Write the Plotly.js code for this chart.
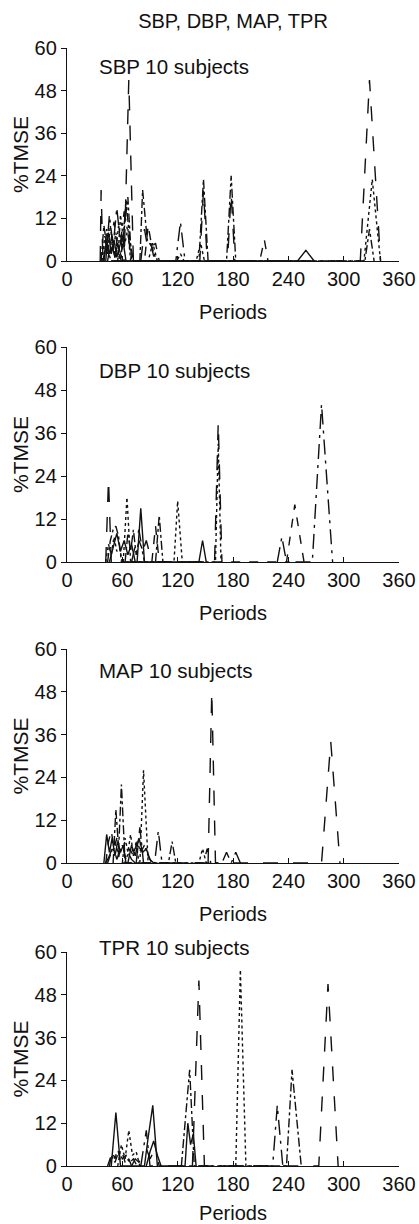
<!DOCTYPE html>
<html>
<head>
<meta charset="utf-8">
<script src="https://cdn.plot.ly/plotly-3.0.1.min.js"></script>
<style>html,body{margin:0;padding:0;background:#fff;}#chart{width:419px;height:1224px;}</style>
</head>
<body>
<div id="chart"></div>
<script>
// ---- data ----
const panelNames = ["SBP 10 subjects", "DBP 10 subjects", "MAP 10 subjects", "TPR 10 subjects"];
const xTicks = [0, 60, 120, 180, 240, 300, 360];
const yTicks = [0, 12, 24, 36, 48, 60];

const sbpPeriods = [
  [36,37,39, 62,67,72, 318,328,340],
  [40,43,46,49,52,56,60,64,68,72, 79,82,87,92,97, 143,148,153, 173,178,183],
  [38,41,44,47,50,53,57, 140,145,149, 322,327,331,336,340],
  [40,43,46,49,52,55,58,61, 250,259,268],
  [42,46,50,54,58,62,66,70, 118,123,128],
  [44,47,51,55,59, 84,88,92,96,100, 209,214,218],
  [55,58,62,66,69, 88,93,98, 119,123,127],
  [37,40,44,48, 58,63,66,70, 323,328,333],
  [39,42,45,48,51,54,57,60,64],
  [80,84,88,91,95, 144,148,152, 174,178,182]
];
const sbpTmse = [
  [0,20,0, 0,51,0, 0,51,0],
  [0,9,2,7,1,10,3,17,6,0, 0,20,6,4,0, 0,23,0, 0,24,0],
  [0,7,2,10,3,8,0, 0,5,0, 0,12,23,10,0],
  [0,6,2,4,1,5,2,0, 0,3,0],
  [0,13,4,15,5,14,8,0, 0,11,0],
  [0,5,11,3,0, 0,10,4,5,0, 0,6,0],
  [0,13,4,9,0, 0,5,0, 0,2,0],
  [0,10,3,0, 0,12,18,0, 0,9,0],
  [0,4,8,2,6,1,4,7,0],
  [0,9,3,5,0, 0,20,0, 0,19,0]
];

const dbpPeriods = [
  [42,45,48, 160,164,168],
  [44,47,50,53,56,59, 96,100,104],
  [61,65,69, 116,120,125, 161,164,167],
  [76,80,84, 143,147,151],
  [228,233,238, 266,276,288],
  [92,96,100, 238,247,257],
  [42,45,48,51,54,57,60],
  [63,66,69,72,75,78,81,84],
  [46,50,54,58,62,66,70,74],
  [70,74,78,82,86,90,94]
];
const dbpTmse = [
  [0,23,0, 0,39,0],
  [0,6,9,10,7,0, 0,13,0],
  [0,18,0, 0,17,0, 0,33,0],
  [0,15,0, 0,6,0],
  [0,7,0, 0,44,0],
  [0,10,0, 0,16,0],
  [0,5,2,7,3,4,0],
  [0,8,3,9,2,6,4,0],
  [0,4,8,3,6,2,5,0],
  [0,5,9,3,6,2,0]
];

const mapPeriods = [
  [153,157,161, 276,286,296],
  [50,53,56,59,63, 110,114,118],
  [79,83,88, 143,147,151],
  [40,43,46,49,52,55,58,61,64],
  [75,79,83, 95,99,103, 168,173,178,183,188],
  [42,45,48,51,54,57, 148,152,156],
  [60,63,66,69,72,75,78],
  [44,48,52,56,60,64,68,72,76,80,84,88,92],
  [66,70,74,78,82,86,90,94],
  [42,46,50,54,58,62,66,70,74]
];
const mapTmse = [
  [0,48,0, 0,34,0],
  [0,15,4,22,0, 0,6,0],
  [0,26,0, 0,4,0],
  [0,8,3,7,2,6,3,5,0],
  [0,10,0, 0,9,0, 0,3,0,3,0],
  [0,6,9,4,7,0, 0,4,0],
  [0,7,3,8,2,6,0],
  [0,3,6,2,5,1,4,2,6,3,5,2,0],
  [0,5,2,7,3,4,1,0],
  [0,2,5,1,4,2,3,1,0]
];

const tprPeriods = [
  [136,143,149, 273,283,294],
  [124,133,138, 238,244,254],
  [183,188,194],
  [48,53,58, 84,88,93,98],
  [80,86,90, 223,228,234],
  [46,49,52,55,58,61,64,67,70],
  [55,59,63,67,71,75,79],
  [44,48,52,56,60,64,68,72,76],
  [86,90,94,98,102, 128,131,134,137,140],
  [70,74,78,82,86,90,94,98,100]
];
const tprTmse = [
  [0,52,0, 0,51,0],
  [0,27,0, 0,27,0],
  [0,55,0],
  [0,15,0, 0,8,17,0],
  [0,10,0, 0,17,0],
  [0,4,2,5,1,3,0,2,0],
  [0,6,2,10,3,4,0],
  [0,3,1,4,2,3,1,2,0],
  [0,4,7,3,0, 0,12,6,9,0],
  [0,2,1,3,5,2,4,2,0]
];

// ---- styles ----
const dashStyles = ["longdash","dashdot","dot","solid","longdashdot","dash","dot","dashdot","solid","longdash"];
const H = 1224;
const panelPx = [[48,261],[347,562],[649,863],[952,1166]];
const labelPx = [67, 370, 670, 947];
const FONT = "Liberation Sans, Arial, sans-serif";

const allX = [sbpPeriods, dbpPeriods, mapPeriods, tprPeriods];
const allY = [sbpTmse, dbpTmse, mapTmse, tprTmse];

const traces = [];
const layout = {
  width: 419, height: 1224,
  margin: {l: 67, r: 20, t: 0, b: 0},
  paper_bgcolor: "#fff", plot_bgcolor: "#fff",
  showlegend: false,
  font: {family: FONT, color: "#111", size: 20},
  title: {text: "SBP, DBP, MAP, TPR", x: 0.5, xref: "paper", y: 1 - 21/H, yref: "container", yanchor: "middle", font: {size: 20, family: FONT, color: "#111"}},
  annotations: []
};

for (let p = 0; p < 4; p++) {
  const sx = p === 0 ? "" : String(p + 1);
  for (let s = 0; s < allX[p].length; s++) {
    traces.push({
      type: "scatter", mode: "lines",
      x: allX[p][s], y: allY[p][s],
      xaxis: "x" + sx, yaxis: "y" + sx,
      line: {color: "#111", width: 1.4, dash: dashStyles[s]},
      hoverinfo: "skip"
    });
  }
  const [top, bot] = panelPx[p];
  layout["xaxis" + sx] = {
    domain: [0, 1], anchor: "y" + sx, range: [0, 360],
    tickmode: "array", tickvals: xTicks, ticks: "inside", ticklen: 5, tickcolor: "#111",
    showline: true, linecolor: "#111", linewidth: 1.2, showgrid: false, zeroline: false,
    tickfont: {size: 20, family: FONT, color: "#111"},
    title: {text: "Periods", font: {size: 20, family: FONT, color: "#111"}, standoff: 15},
    fixedrange: true
  };
  layout["yaxis" + sx] = {
    domain: [1 - bot/H, 1 - top/H], anchor: "x" + sx, range: [0, 60],
    tickmode: "array", tickvals: yTicks, ticks: "outside", ticklen: 5, tickcolor: "#111",
    showline: true, linecolor: "#111", linewidth: 1.2, showgrid: false, zeroline: false,
    tickfont: {size: 20, family: FONT, color: "#111"},
    title: {text: "%TMSE", font: {size: 21, family: FONT, color: "#111"}, standoff: 0},
    fixedrange: true
  };
  layout.annotations.push({
    text: panelNames[p], xref: "x" + sx, yref: "y" + sx + " domain",
    x: 33, y: (bot - labelPx[p]) / (bot - top), xanchor: "left", yanchor: "middle",
    showarrow: false, font: {size: 20.5, family: FONT, color: "#111"}
  });
}

Plotly.newPlot("chart", traces, layout, {staticPlot: true, displayModeBar: false});
</script>
</body>
</html>
